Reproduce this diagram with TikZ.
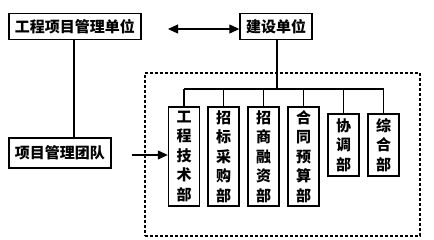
\documentclass[tikz,border=0pt]{standalone}
\usepackage{fontspec}
\newfontfamily\cjk{Noto Sans CJK SC}
\usetikzlibrary{arrows.meta}
\begin{document}
\begin{tikzpicture}[x=1pt,y=-1pt,
  box/.style={draw,line width=1.4pt,inner sep=0pt,font=\cjk\bfseries\fontsize{15}{19.5}\selectfont},
  deptbox/.style={box,align=center,minimum width=31pt},
  conn/.style={line width=1.2pt},
  arr/.style={conn,-{Triangle[length=10pt,width=9pt]}},
]
\useasboundingbox (0,0) rectangle (434,239);
\node[box,minimum width=132pt,minimum height=26pt] (A) at (75,26.5) {工程项目管理单位};
\node[box,minimum width=72pt,minimum height=26pt] (B) at (276,26.5) {建设单位};
\node[box,minimum width=102pt,minimum height=30pt] (C) at (60,153) {项目管理团队};
\node[draw,line width=1.4pt,dash pattern=on 3pt off 2pt,minimum width=275pt,minimum height=163pt,inner sep=0pt] (F) at (282.5,154.5) {};
\node[deptbox,minimum height=99pt] (D1) at (184,156.5) {工\\程\\技\\术\\部};
\node[deptbox,minimum height=99pt] (D2) at (223.5,156.5) {招\\标\\采\\购\\部};
\node[deptbox,minimum height=99pt] (D3) at (263.5,156.5) {招\\商\\融\\资\\部};
\node[deptbox,minimum height=99pt] (D4) at (303.5,156.5) {合\\同\\预\\算\\部};
\node[deptbox,minimum height=62pt] (D5) at (343.5,145) {协\\调\\部};
\node[deptbox,minimum height=62pt] (D6) at (383.5,145) {综\\合\\部};
\coordinate (L) at (168,29);
\coordinate (bus) at (277,89);
\draw[conn,{Triangle[length=10pt,width=9pt]}-{Triangle[length=10pt,width=9pt]}] (L) -- (L -| B.west);
\draw[conn] (A.south -| 74,0) -- (C.north -| 74,0);
\draw[arr,shorten <=20pt] (C.east |- 0,155) -- (D1.west |- 0,155);
\draw[conn] (B.south -| bus) -- (bus);
\draw[conn] (D1.north |- bus) -- (D6.north |- bus);
\foreach \d in {D1,D2,D3,D4,D5,D6} \draw[conn] (\d.north |- bus) -- (\d.north);
\end{tikzpicture}
\end{document}
